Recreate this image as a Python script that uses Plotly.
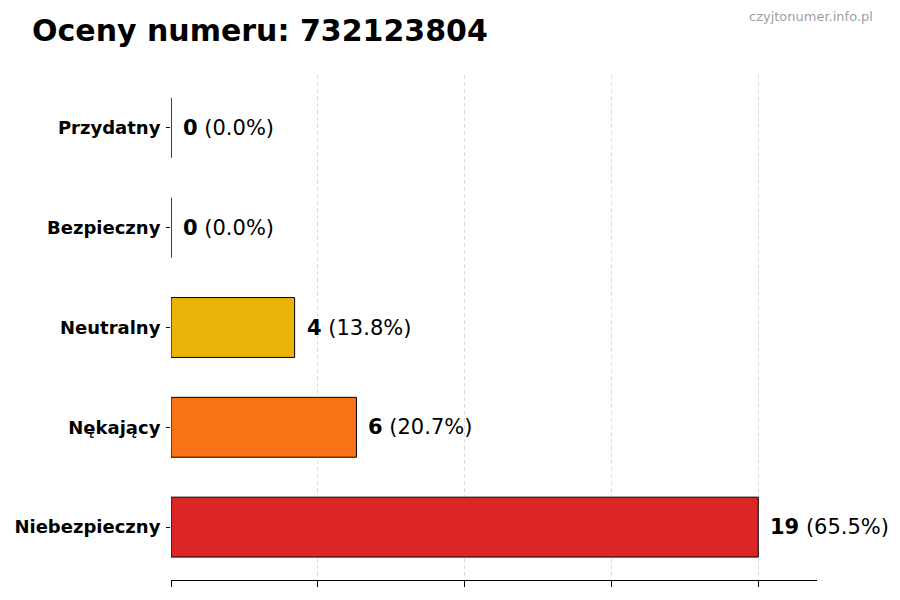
import plotly.graph_objects as go
import numpy as np

categories = ["Niebezpieczny", "Nękający", "Neutralny", "Bezpieczny", "Przydatny"]
values = [19, 6, 4, 0, 0]
colors = ["#DC2626", "#F97316", "#EAB308", "#16A34A", "#2563EB"]
title_text = "Oceny numeru: 732123804"
watermark = "czyjtonumer.info.pl"

total = sum(values)
vmax = max(values)

# page has an 8px body offset; figure coords = page coords - 8
L, R, T, B = 163, 91, 67, 28
W, H = 900, 600
pw, ph = W - L - R, H - T - B

fig = go.Figure()
fig.add_trace(go.Bar(
    y=categories, x=values, orientation="h", width=0.6,
    marker=dict(color=colors, line=dict(color="black", width=1)),
    hoverinfo="skip",
))

for c, v in zip(categories, values):
    pct = 100 * v / total
    fig.add_annotation(
        x=v, y=c, xref="x", yref="y", xanchor="left", yanchor="middle",
        xshift=10, showarrow=False,
        text=f"<b>{v}</b> ({pct:.1f}%)",
        font=dict(family="DejaVu Sans", size=21, color="black"),
    )

fig.add_annotation(
    x=(867 - L) / pw, y=(H - B - 9) / ph, xref="paper", yref="paper",
    xanchor="right", yanchor="middle", showarrow=False,
    text=watermark, font=dict(family="DejaVu Sans", size=13, color="#a0a0a0"),
)

fig.update_layout(
    width=W, height=H,
    margin=dict(l=L, r=R, t=T, b=B),
    plot_bgcolor="white", paper_bgcolor="white",
    showlegend=False,
    title=dict(
        text=f"<b>{title_text}</b>", x=24 / W, xanchor="left", xref="container",
        y=1 - 22 / H, yanchor="middle", yref="container",
        font=dict(family="DejaVu Sans", size=30, color="black"),
    ),
    xaxis=dict(
        range=[0, vmax * 1.1],
        tickmode="array", tickvals=list(np.linspace(0, vmax, 5)),
        showticklabels=False, automargin=False,
        ticks="outside", ticklen=6, tickcolor="black",
        showline=True, linecolor="black", linewidth=1,
        showgrid=True, gridcolor="#dcdcdc", griddash="4px,3px", gridwidth=1,
        zeroline=False, fixedrange=True,
    ),
    yaxis=dict(
        categoryorder="array", categoryarray=categories,
        range=[-0.53, len(categories) - 1 + 0.53],
        tickvals=categories, ticktext=[f"<b>{c}</b>" for c in categories],
        ticks="outside", ticklen=4, tickcolor="black", automargin=False,
        showline=False, showgrid=False, zeroline=False,
        tickfont=dict(family="DejaVu Sans", size=18, color="black"),
        ticklabelstandoff=2,
    ),
)

fig.write_html("out.html")
